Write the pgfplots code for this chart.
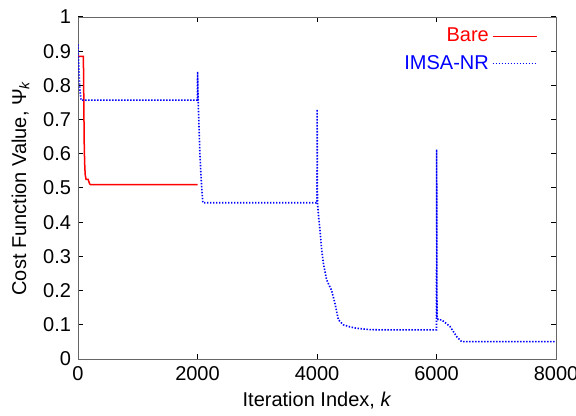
\documentclass[border=0pt]{standalone}
\usepackage{fontspec}
\setmainfont{Liberation Sans}
\usepackage{pgfplots}
\pgfplotsset{compat=1.18}
\begin{document}
\begin{tikzpicture}
\begin{axis}[
  name=ax,
  scale only axis,
  width=239pt, height=171pt,
  xmin=0, xmax=8000, ymin=0, ymax=1,
  xtick={0,2000,4000,6000,8000},
  ytick={0,0.1,0.2,0.3,0.4,0.5,0.6,0.7,0.8,0.9,1},
  scaled x ticks=false,
  /pgf/number format/1000 sep={},
  /pgf/number format/assume math mode=true,
  tick align=inside,
  major tick length=2.5pt,
  axis line style={black!60},
  tick style={black, line width=0.5pt},
  xlabel={Iteration Index, \textit{k}},
  ylabel={Cost Function Value, Ψ\textsubscript{\textit{k}}},
  xlabel style={yshift=1pt},
  ylabel style={yshift=0pt},
  legend style={at={(axis description cs:0.962,0.978)}, anchor=north east, draw=none, fill=none, inner sep=0pt, row sep=2.2pt, nodes={inner sep=1.5pt}},
  legend cell align=right,
  legend plot pos=right,
  legend image code/.code={\draw[#1] (2pt,0pt) -- (24pt,0pt);},
]
\addplot[red, line width=0.75pt] coordinates {
(0,0.885) (90,0.885) (95,0.8) (100,0.7) (105,0.62) (112,0.57) (120,0.54) (135,0.525) (170,0.525) (195,0.512) (210,0.51) (2000,0.51)
};
\addlegendentry{\textcolor{red}{Bare}}
\addplot[blue, line width=0.8pt, dash pattern=on 0.7pt off 0.8pt] coordinates {
(0,0.92) (15,0.85) (30,0.79) (50,0.757) (2000,0.757) (2001,0.84) (2010,0.76) (2025,0.68) (2040,0.60) (2060,0.53) (2075,0.49) (2090,0.457)
(4000,0.457) (4002,0.73) (4008,0.455) (4030,0.41) (4050,0.377) (4078,0.32) (4106,0.28) (4160,0.232) (4245,0.20) (4300,0.163) (4357,0.115) (4440,0.10) (4550,0.094) (4660,0.09) (4880,0.086) (5100,0.085)
(6000,0.085) (6002,0.613) (6008,0.12) (6030,0.115) (6090,0.114) (6226,0.095) (6340,0.065) (6420,0.051) (8000,0.051)
};
\addlegendentry{\textcolor{blue}{IMSA-NR}}
\end{axis}
\pgfresetboundingbox
\path (ax.south west) ++(-39pt,-28pt) rectangle ([xshift=10pt,yshift=8.5pt]ax.north east);
\end{tikzpicture}
\end{document}
